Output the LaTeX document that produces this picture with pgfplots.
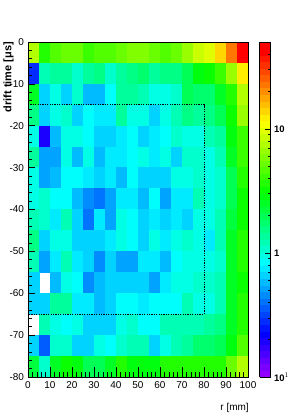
\documentclass[border=0pt]{standalone}
\usepackage{fontspec}
\setmainfont{Liberation Sans}
\usepackage{pgfplots}
\pgfplotsset{compat=1.18}
\pgfplotsset{colormap={rootpal}{
rgb255=(146,0,255) rgb255=(122,0,255) rgb255=(99,0,255) rgb255=(75,0,255) rgb255=(51,0,255)
rgb255=(27,0,255) rgb255=(3,0,255) rgb255=(0,20,255) rgb255=(0,44,255) rgb255=(0,68,255)
rgb255=(0,92,255) rgb255=(0,116,255) rgb255=(0,139,255) rgb255=(0,163,255) rgb255=(0,187,255)
rgb255=(0,211,255) rgb255=(0,235,255) rgb255=(0,255,252) rgb255=(0,255,228) rgb255=(0,255,204)
rgb255=(0,255,180) rgb255=(0,255,156) rgb255=(0,255,133) rgb255=(0,255,109) rgb255=(0,255,85)
rgb255=(0,255,61) rgb255=(0,255,37) rgb255=(0,255,14) rgb255=(10,255,0) rgb255=(34,255,0)
rgb255=(58,255,0) rgb255=(82,255,0) rgb255=(105,255,0) rgb255=(129,255,0) rgb255=(153,255,0)
rgb255=(177,255,0) rgb255=(201,255,0) rgb255=(224,255,0) rgb255=(248,255,0) rgb255=(255,238,0)
rgb255=(255,214,0) rgb255=(255,190,0) rgb255=(255,167,0) rgb255=(255,143,0) rgb255=(255,119,0)
rgb255=(255,95,0) rgb255=(255,71,0) rgb255=(255,48,0) rgb255=(255,24,0) rgb255=(255,0,0)
rgb255=(255,0,0)}}
\pgfplotstableread{
x y z
2.5 -2.5 8
7.5 -2.5 3.7
12.5 -2.5 4.5
17.5 -2.5 5.5
22.5 -2.5 5.5
27.5 -2.5 4.3
32.5 -2.5 4.8
37.5 -2.5 4.8
42.5 -2.5 5.5
47.5 -2.5 5.8
52.5 -2.5 5.8
57.5 -2.5 5.2
62.5 -2.5 4.8
67.5 -2.5 5.2
72.5 -2.5 7
77.5 -2.5 8.5
82.5 -2.5 10
87.5 -2.5 14
92.5 -2.5 24
97.5 -2.5 45
2.5 -7.5 0.28
7.5 -7.5 1.2
12.5 -7.5 1.35
17.5 -7.5 1.35
22.5 -7.5 1.1
27.5 -7.5 1.4
32.5 -7.5 1.6
37.5 -7.5 1.05
42.5 -7.5 1.4
47.5 -7.5 1.6
52.5 -7.5 1.7
57.5 -7.5 1.35
62.5 -7.5 1.5
67.5 -7.5 1.6
72.5 -7.5 2.1
77.5 -7.5 2.7
82.5 -7.5 3.2
87.5 -7.5 3.9
92.5 -7.5 7
97.5 -7.5 13
2.5 -12.5 2.5
7.5 -12.5 0.63
12.5 -12.5 0.92
17.5 -12.5 0.63
22.5 -12.5 1.1
27.5 -12.5 0.56
32.5 -12.5 0.56
37.5 -12.5 0.82
42.5 -12.5 1.4
47.5 -12.5 1.35
52.5 -12.5 1.2
57.5 -12.5 0.92
62.5 -12.5 1.0
67.5 -12.5 1.1
72.5 -12.5 2.0
77.5 -12.5 1.7
82.5 -12.5 1.7
87.5 -12.5 2.5
92.5 -12.5 3.7
97.5 -12.5 7.5
2.5 -17.5 1.6
7.5 -17.5 0.66
12.5 -17.5 0.92
17.5 -17.5 1.1
22.5 -17.5 0.66
27.5 -17.5 0.85
32.5 -17.5 0.78
37.5 -17.5 0.78
42.5 -17.5 1.35
47.5 -17.5 0.92
52.5 -17.5 0.92
57.5 -17.5 0.7
62.5 -17.5 0.92
67.5 -17.5 1.2
72.5 -17.5 1.5
77.5 -17.5 1.4
82.5 -17.5 1.5
87.5 -17.5 2.0
92.5 -17.5 3.2
97.5 -17.5 6.5
2.5 -22.5 0.92
7.5 -22.5 0.2
12.5 -22.5 0.56
17.5 -22.5 0.92
22.5 -22.5 0.92
27.5 -22.5 0.85
32.5 -22.5 0.66
37.5 -22.5 0.66
42.5 -22.5 0.74
47.5 -22.5 0.82
52.5 -22.5 0.66
57.5 -22.5 0.74
62.5 -22.5 0.82
67.5 -22.5 1.05
72.5 -22.5 0.92
77.5 -22.5 0.92
82.5 -22.5 1.2
87.5 -22.5 1.35
92.5 -22.5 2.9
97.5 -22.5 4.1
2.5 -27.5 1.3
7.5 -27.5 0.5
12.5 -27.5 0.5
17.5 -27.5 0.92
22.5 -27.5 0.6
27.5 -27.5 0.9
32.5 -27.5 0.6
37.5 -27.5 0.74
42.5 -27.5 0.78
47.5 -27.5 0.85
52.5 -27.5 0.92
57.5 -27.5 0.74
62.5 -27.5 0.92
67.5 -27.5 0.7
72.5 -27.5 1.1
77.5 -27.5 1.1
82.5 -27.5 0.92
87.5 -27.5 1.2
92.5 -27.5 2.5
97.5 -27.5 3.9
2.5 -32.5 0.92
7.5 -32.5 0.5
12.5 -32.5 0.6
17.5 -32.5 0.85
22.5 -32.5 0.85
27.5 -32.5 0.74
32.5 -32.5 0.66
37.5 -32.5 0.78
42.5 -32.5 0.56
47.5 -32.5 0.85
52.5 -32.5 0.63
57.5 -32.5 0.7
62.5 -32.5 0.63
67.5 -32.5 0.92
72.5 -32.5 0.92
77.5 -32.5 1.1
82.5 -32.5 0.92
87.5 -32.5 1.1
92.5 -32.5 2.0
97.5 -32.5 3.5
2.5 -37.5 0.92
7.5 -37.5 1.1
12.5 -37.5 0.82
17.5 -37.5 0.82
22.5 -37.5 0.56
27.5 -37.5 0.48
32.5 -37.5 0.41
37.5 -37.5 0.5
42.5 -37.5 0.74
47.5 -37.5 0.74
52.5 -37.5 0.56
57.5 -37.5 0.85
62.5 -37.5 0.5
67.5 -37.5 0.74
72.5 -37.5 0.74
77.5 -37.5 1.15
82.5 -37.5 0.92
87.5 -37.5 1.1
92.5 -37.5 2.0
97.5 -37.5 3.2
2.5 -42.5 1.2
7.5 -42.5 1.1
12.5 -42.5 0.74
17.5 -42.5 1.15
22.5 -42.5 0.66
27.5 -42.5 0.43
32.5 -42.5 0.74
37.5 -42.5 0.53
42.5 -42.5 0.92
47.5 -42.5 0.85
52.5 -42.5 0.63
57.5 -42.5 0.74
62.5 -42.5 0.63
67.5 -42.5 0.74
72.5 -42.5 0.66
77.5 -42.5 0.92
82.5 -42.5 0.92
87.5 -42.5 1.2
92.5 -42.5 2.2
97.5 -42.5 3.2
2.5 -47.5 1.5
7.5 -47.5 0.63
12.5 -47.5 0.92
17.5 -47.5 0.92
22.5 -47.5 0.66
27.5 -47.5 0.7
32.5 -47.5 0.63
37.5 -47.5 0.74
42.5 -47.5 0.92
47.5 -47.5 0.85
52.5 -47.5 0.63
57.5 -47.5 0.92
62.5 -47.5 0.78
67.5 -47.5 0.92
72.5 -47.5 1.1
77.5 -47.5 0.92
82.5 -47.5 0.78
87.5 -47.5 1.2
92.5 -47.5 2.4
97.5 -47.5 3.5
2.5 -52.5 1.2
7.5 -52.5 0.5
12.5 -52.5 0.78
17.5 -52.5 1.2
22.5 -52.5 0.74
27.5 -52.5 0.66
32.5 -52.5 0.48
37.5 -52.5 0.63
42.5 -52.5 0.53
47.5 -52.5 0.5
52.5 -52.5 0.74
57.5 -52.5 0.74
62.5 -52.5 0.56
67.5 -52.5 0.85
72.5 -52.5 0.92
77.5 -52.5 0.92
82.5 -52.5 0.92
87.5 -52.5 1.05
92.5 -52.5 2.4
97.5 -52.5 3.5
2.5 -57.5 0.66
12.5 -57.5 0.56
17.5 -57.5 0.92
22.5 -57.5 0.85
27.5 -57.5 0.45
32.5 -57.5 0.56
37.5 -57.5 0.63
42.5 -57.5 0.7
47.5 -57.5 0.66
52.5 -57.5 0.63
57.5 -57.5 0.53
62.5 -57.5 0.74
67.5 -57.5 0.92
72.5 -57.5 0.92
77.5 -57.5 1.1
82.5 -57.5 1.05
87.5 -57.5 1.2
92.5 -57.5 2.5
97.5 -57.5 3.4
2.5 -62.5 0.66
7.5 -62.5 0.66
12.5 -62.5 1.35
17.5 -62.5 1.3
22.5 -62.5 0.74
27.5 -62.5 0.74
32.5 -62.5 0.56
37.5 -62.5 0.63
42.5 -62.5 0.85
47.5 -62.5 0.85
52.5 -62.5 0.78
57.5 -62.5 0.85
62.5 -62.5 0.85
67.5 -62.5 0.85
72.5 -62.5 1.2
77.5 -62.5 0.92
82.5 -62.5 0.92
87.5 -62.5 1.2
92.5 -62.5 2.4
97.5 -62.5 3.7
7.5 -67.5 1.15
12.5 -67.5 0.92
17.5 -67.5 0.82
22.5 -67.5 0.92
27.5 -67.5 0.66
32.5 -67.5 0.66
37.5 -67.5 0.66
42.5 -67.5 0.92
47.5 -67.5 1.1
52.5 -67.5 0.82
57.5 -67.5 0.82
62.5 -67.5 1.15
67.5 -67.5 1.15
72.5 -67.5 1.2
77.5 -67.5 1.2
82.5 -67.5 1.35
87.5 -67.5 1.6
92.5 -67.5 2.5
97.5 -67.5 3.7
2.5 -72.5 0.63
7.5 -72.5 0.37
12.5 -72.5 1.1
17.5 -72.5 1.1
22.5 -72.5 0.66
27.5 -72.5 0.66
32.5 -72.5 0.92
37.5 -72.5 0.82
42.5 -72.5 1.1
47.5 -72.5 1.2
52.5 -72.5 1.15
57.5 -72.5 0.7
62.5 -72.5 0.92
67.5 -72.5 1.2
72.5 -72.5 1.35
77.5 -72.5 1.7
82.5 -72.5 1.7
87.5 -72.5 2.0
92.5 -72.5 2.9
97.5 -72.5 4.5
2.5 -77.5 2.3
7.5 -77.5 1.1
12.5 -77.5 2.5
17.5 -77.5 3.2
22.5 -77.5 2.9
27.5 -77.5 1.9
32.5 -77.5 2.1
37.5 -77.5 2.5
42.5 -77.5 3.5
47.5 -77.5 3.0
52.5 -77.5 2.9
57.5 -77.5 3.0
62.5 -77.5 3.6
67.5 -77.5 3.5
72.5 -77.5 3.5
77.5 -77.5 3.5
82.5 -77.5 3.5
87.5 -77.5 3.7
92.5 -77.5 5.2
97.5 -77.5 8
}\druTable
\begin{document}
\begin{tikzpicture}
\begin{axis}[
  scale only axis, width=220bp, height=335bp,
  at={(0,0)}, anchor=south west,
  xmin=0, xmax=100, ymin=-80, ymax=0,
  enlargelimits=false, axis on top, clip=true, clip marker paths=true,
  tick pos=left, tick align=inside,
  xtick={0,10,...,100},
  xticklabels={0,10,20,30,40,50,60,70,80,90,100},
  ytick={-80,-70,...,0},
  yticklabels={-80,-70,-60,-50,-40,-30,-20,-10,0},
  minor x tick num=4, minor y tick num=4,
  major tick length=7bp, minor tick length=3.5bp,
  x tick style={/pgfplots/major tick length=10bp,/pgfplots/minor tick length=5bp},
  tick style={black, line width=0.5bp},
  axis line style={line width=0.5bp},
  ticklabel style={font=\fontsize{10}{12}\selectfont},
  xticklabel style={yshift=-1bp},
  yticklabel style={xshift=-0.5bp},
  xlabel={r [mm]},
  xlabel style={at={(axis description cs:1.004,-0.078)}, anchor=north east, inner sep=0pt, font=\fontsize{10}{12}\selectfont},
  ylabel={drift time [μs]},
  ylabel style={at={(axis description cs:-0.088,1)}, anchor=east, inner sep=0pt, font=\bfseries\fontsize{11}{13}\selectfont},
  colormap name=rootpal,
  colormap access=piecewise constant,
  point meta min=-1, point meta max=1.7,
  colorbar,
  colorbar style={
    at={(parent axis.north east)}, anchor=north west, xshift=3bp,
    width=11bp,
    ytick={-1,0,1},
    yticklabels={10$^{1}$,1,10},
    minor ytick={-0.69897,-0.52288,-0.39794,-0.30103,-0.22185,-0.15490,-0.09691,-0.04576,
      0.30103,0.47712,0.60206,0.69897,0.77815,0.84510,0.90309,0.95424,
      1.30103,1.47712,1.60206,1.69897},
    ytick pos=right, tick align=inside,
    major tick length=6bp, minor tick length=3bp,
    tick style={black, line width=0.5bp},
    yticklabel style={font=\bfseries\fontsize{9.5}{11}\selectfont, xshift=0bp},
  },
]
\addplot[scatter, only marks, mark=square*, mark size=5.5bp,
  every mark/.append style={yscale=1.9036, line width=0.3bp},
  scatter/use mapped color={draw=mapped color, fill=mapped color},
  point meta={log10(\thisrow{z})}] table[x=x, y=y] {\druTable};
\addplot[black, line width=0.8bp, dash pattern=on 1.2bp off 1.2bp, forget plot] coordinates {(0,-15) (80,-15) (80,-65) (0,-65)};
\node[rotate=90, anchor=east, inner sep=0pt, font=\bfseries\fontsize{9}{11}\selectfont] at (axis description cs:1.1455,1) {dru};
\end{axis}
\pgfresetboundingbox
\path (-28bp,-42bp) rectangle (263bp,377bp);
\end{tikzpicture}
\end{document}
